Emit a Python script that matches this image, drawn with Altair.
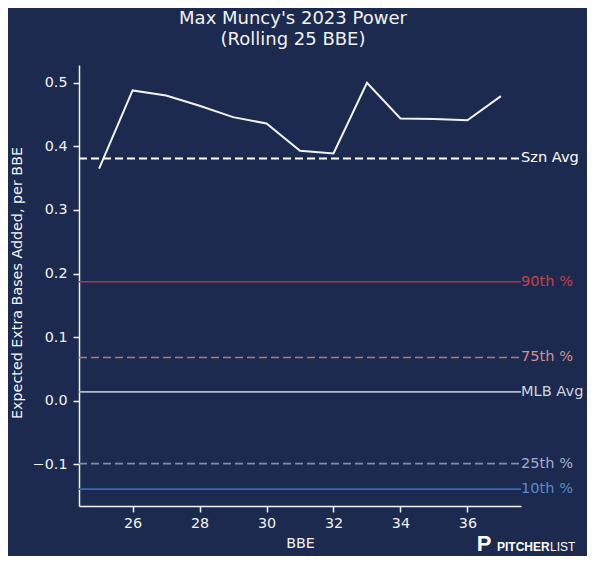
import altair as alt
import pandas as pd

# ---- data ----
bbe = [25, 26, 27, 28, 29, 30, 31, 32, 33, 34, 35, 36, 37]
power = [0.365, 0.488, 0.480, 0.464, 0.446, 0.436, 0.393, 0.389, 0.500, 0.444, 0.443, 0.441, 0.479]

ref_names = ["Szn Avg", "90th %", "75th %", "MLB Avg", "25th %", "10th %"]
ref_values = [0.381, 0.187, 0.068, 0.014, -0.099, -0.139]

x_ticks = [26, 28, 30, 32, 34, 36]
y_ticks = [-0.1, 0.0, 0.1, 0.2, 0.3, 0.4, 0.5]

title_lines = ["Max Muncy's 2023 Power", "(Rolling 25 BBE)"]

# ---- styles ----
ref_line_colors = ["#ffffff", "#b5343f", "#b07a82", "#b4bac8", "#7d8cb0", "#3a68b3"]
ref_text_colors = ["#ffffff", "#c4414c", "#d48f92", "#d0d4dc", "#a2aecb", "#5b88cc"]
ref_dashed = [True, False, True, False, True, False]
ref_widths = [2, 1.6, 1.6, 1.8, 1.6, 1.6]

BG = "#1b2a4e"
FG = "#f2f2f2"
FONT = "DejaVu Sans"
X_DOMAIN = [24.4, 37.6]
Y_DOMAIN = [-0.1656, 0.528]
W, H = 442, 441

line_df = pd.DataFrame({"BBE": bbe, "power": power})

xs = alt.Scale(domain=X_DOMAIN, nice=False, zero=False)
ys = alt.Scale(domain=Y_DOMAIN, nice=False, zero=False)

x_enc = alt.X(
    "BBE:Q", scale=xs,
    axis=alt.Axis(values=x_ticks, title="BBE", grid=False, format="d",
                  tickSize=6, labelPadding=4, titlePadding=6),
)
y_enc = alt.Y(
    "power:Q", scale=ys,
    axis=alt.Axis(values=y_ticks, title="Expected Extra Bases Added, per BBE",
                  grid=False, format=".1f", tickSize=6, labelPadding=6,
                  titleX=-62, titleY=H / 2 - 3, titleBaseline="middle",
                  titleAlign="center", titleAngle=270),
)

main = alt.Chart(line_df).mark_line(color=FG, strokeWidth=2).encode(x=x_enc, y=y_enc)

layers = [main]
for name, val, lc, tc, dashed, sw in zip(ref_names, ref_values, ref_line_colors,
                                         ref_text_colors, ref_dashed, ref_widths):
    d = pd.DataFrame({"x0": [X_DOMAIN[0]], "x1": [X_DOMAIN[1]], "y": [val], "label": [name]})
    rule_kwargs = dict(color=lc, strokeWidth=sw, clip=False)
    if dashed:
        rule_kwargs["strokeDash"] = [8, 4]
    rule = alt.Chart(d).mark_rule(**rule_kwargs).encode(
        x=alt.X("x0:Q", scale=xs), x2="x1:Q", y=alt.Y("y:Q", scale=ys),
    )
    txt = alt.Chart(d).mark_text(
        align="left", baseline="middle", dx=0, fontSize=14.6, font=FONT, color=tc, clip=False
    ).encode(
        x=alt.X("x1:Q", scale=xs), y=alt.Y("y:Q", scale=ys), text="label:N",
    )
    layers += [rule, txt]

# title (two centred lines above the plot)
for i, line in enumerate(title_lines):
    layers.append(
        alt.Chart(pd.DataFrame({"t": [line]})).mark_text(
            font=FONT, fontSize=18, color=FG, align="center", baseline="alphabetic"
        ).encode(x=alt.value(214), y=alt.value(-41 + 21 * i), text="t:N")
    )

# brand mark (bottom right)
logo_p = alt.Chart(pd.DataFrame({"t": ["P"]})).mark_text(
    font="Liberation Sans", fontWeight="bold", fontSize=22, color="#ffffff",
    align="center", baseline="middle"
).encode(x=alt.value(405), y=alt.value(479), text="t:N")
logo_a = alt.Chart(pd.DataFrame({"t": ["PITCHER"]})).mark_text(
    font="Liberation Sans", fontWeight="bold", fontSize=12, color="#ffffff",
    align="left", baseline="middle"
).encode(x=alt.value(418), y=alt.value(482), text="t:N")
logo_b = alt.Chart(pd.DataFrame({"t": ["LIST"]})).mark_text(
    font="Liberation Sans", fontSize=12, color="#ffffff",
    align="left", baseline="middle"
).encode(x=alt.value(471), y=alt.value(482), text="t:N")
layers += [logo_p, logo_a, logo_b]

chart = alt.layer(*layers).properties(
    width=W, height=H,
    background=BG,
    padding={"left": 71, "top": 57, "right": 66, "bottom": 50},
    autosize=alt.AutoSizeParams(type="none"),
).configure_view(stroke=None).configure_axis(
    domainColor=FG, tickColor=FG, labelColor=FG, titleColor=FG,
    labelFont=FONT, titleFont=FONT, labelFontSize=14.3, titleFontSize=14.3,
    titleFontWeight="normal", domainWidth=1.5, tickWidth=1.5,
)

chart.save("out.html", embed_options={"renderer": "svg", "actions": False})
